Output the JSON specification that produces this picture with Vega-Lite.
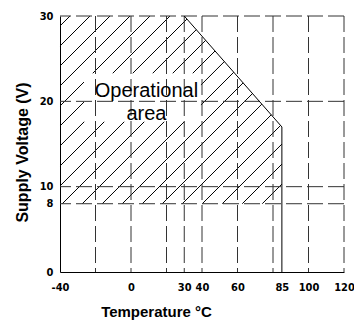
{
  "$schema": "https://vega.github.io/schema/vega-lite/v6.json",
  "width": 284,
  "height": 256,
  "autosize": {"type": "none"},
  "padding": {"left": 60, "top": 16, "right": 10, "bottom": 50},
  "background": "white",
  "config": {"view": {"stroke": null}},
  "datasets": {
    "hatch": [
      {"t1": -40, "v1": 28.83, "t2": -34.37, "v2": 30},
      {"t1": -40, "v1": 26.48, "t2": -23.10, "v2": 30},
      {"t1": -40, "v1": 24.14, "t2": -11.83, "v2": 30},
      {"t1": -40, "v1": 21.80, "t2": -0.56, "v2": 30},
      {"t1": -40, "v1": 19.45, "t2": 10.70, "v2": 30},
      {"t1": -40, "v1": 17.11, "t2": 21.97, "v2": 30},
      {"t1": -40, "v1": 14.77, "t2": 31.52, "v2": 29.64},
      {"t1": -40, "v1": 12.42, "t2": 36.79, "v2": 28.40},
      {"t1": -40, "v1": 10.08, "t2": 42.07, "v2": 27.15},
      {"t1": -38.72, "v1": 8, "t2": 47.34, "v2": 25.90},
      {"t1": -27.45, "v1": 8, "t2": 52.61, "v2": 24.66},
      {"t1": -16.19, "v1": 8, "t2": 57.89, "v2": 23.41},
      {"t1": -4.92, "v1": 8, "t2": 63.16, "v2": 22.16},
      {"t1": 6.35, "v1": 8, "t2": 68.44, "v2": 20.91},
      {"t1": 17.62, "v1": 8, "t2": 73.71, "v2": 19.67},
      {"t1": 28.88, "v1": 8, "t2": 78.99, "v2": 18.42},
      {"t1": 40.15, "v1": 8, "t2": 84.26, "v2": 17.17},
      {"t1": 51.42, "v1": 8, "t2": 85, "v2": 14.99},
      {"t1": 62.69, "v1": 8, "t2": 85, "v2": 12.64},
      {"t1": 73.95, "v1": 8, "t2": 85, "v2": 10.30}
    ],
    "box": [{"t1": -26.5, "t2": 39.4, "v1": 17.6, "v2": 23.3}],
    "xgrid": [{"t": -20}, {"t": 0}, {"t": 20}, {"t": 30}, {"t": 40}, {"t": 60}, {"t": 80}, {"t": 100}, {"t": 120}],
    "ygrid": [{"v": 8}, {"v": 10}, {"v": 20}, {"v": 30}],
    "outline": [
      {"i": 1, "t": 30, "v": 30},
      {"i": 2, "t": 85, "v": 17},
      {"i": 3, "t": 85, "v": 0}
    ],
    "label": [{"t": 8.7, "v": 20.5, "label": "Operational area"}]
  },
  "layer": [
    {
      "data": {"name": "hatch"},
      "mark": {"type": "rule", "color": "black", "strokeWidth": 1},
      "encoding": {
        "x": {
          "field": "t1", "type": "quantitative", "title": "Temperature °C",
          "scale": {"domain": [-40, 120], "nice": false, "zero": false},
          "axis": {
            "values": [-40, 0, 30, 40, 60, 85, 100, 120],
            "labelExpr": "replace(datum.label, '\u2212', '-')",
            "grid": false, "ticks": false,
            "domain": true, "domainColor": "black", "domainWidth": 1,
            "labelFont": "DejaVu Sans Condensed, Liberation Sans, sans-serif", "labelFontWeight": "bold", "labelFontSize": 11,
            "labelColor": "black", "labelPadding": 9, "labelFlush": false, "labelOverlap": false,
            "titleFont": "Liberation Sans", "titleFontWeight": "bold", "titleFontSize": 15,
            "titleColor": "black", "titleX": 96, "titleY": 44, "titleAlign": "center", "titleBaseline": "alphabetic"
          }
        },
        "y": {
          "field": "v1", "type": "quantitative", "title": "Supply Voltage (V)",
          "scale": {"domain": [0, 30], "nice": false, "zero": false},
          "axis": {
            "values": [0, 8, 10, 20, 30],
            "grid": false, "ticks": false,
            "domain": true, "domainColor": "black", "domainWidth": 1,
            "labelFont": "DejaVu Sans Condensed, Liberation Sans, sans-serif", "labelFontWeight": "bold", "labelFontSize": 11,
            "labelColor": "black", "labelPadding": 7, "labelFlush": false, "labelOverlap": false,
            "titleFont": "Liberation Sans", "titleFontWeight": "bold", "titleFontSize": 16,
            "titleColor": "black", "titleX": -38, "titleY": 136, "titleAlign": "center", "titleBaseline": "middle", "titleAngle": -90
          }
        },
        "x2": {"field": "t2"},
        "y2": {"field": "v2"}
      }
    },
    {
      "data": {"name": "box"},
      "mark": {"type": "rect", "color": "white"},
      "encoding": {
        "x": {"field": "t1", "type": "quantitative", "title": "Temperature °C"},
        "x2": {"field": "t2"},
        "y": {"field": "v1", "type": "quantitative", "title": "Supply Voltage (V)"},
        "y2": {"field": "v2"}
      }
    },
    {
      "data": {"name": "xgrid"},
      "mark": {"type": "rule", "color": "#333333", "strokeWidth": 1, "strokeDash": [16, 5]},
      "encoding": {"x": {"field": "t", "type": "quantitative", "title": "Temperature °C"}}
    },
    {
      "data": {"name": "ygrid"},
      "mark": {"type": "rule", "color": "#333333", "strokeWidth": 1, "strokeDash": [16, 5]},
      "encoding": {"y": {"field": "v", "type": "quantitative", "title": "Supply Voltage (V)"}}
    },
    {
      "data": {"name": "outline"},
      "mark": {"type": "line", "color": "black", "strokeWidth": 1},
      "encoding": {
        "x": {"field": "t", "type": "quantitative", "title": "Temperature °C"},
        "y": {"field": "v", "type": "quantitative", "title": "Supply Voltage (V)"},
        "order": {"field": "i", "type": "quantitative"}
      }
    },
    {
      "data": {"name": "label"},
      "mark": {"type": "text", "font": "Liberation Sans", "fontSize": 20, "lineBreak": " ", "lineHeight": 23, "align": "center", "baseline": "alphabetic", "color": "black"},
      "encoding": {
        "x": {"field": "t", "type": "quantitative", "title": "Temperature °C"},
        "y": {"field": "v", "type": "quantitative", "title": "Supply Voltage (V)"},
        "text": {"field": "label"}
      }
    }
  ]
}
